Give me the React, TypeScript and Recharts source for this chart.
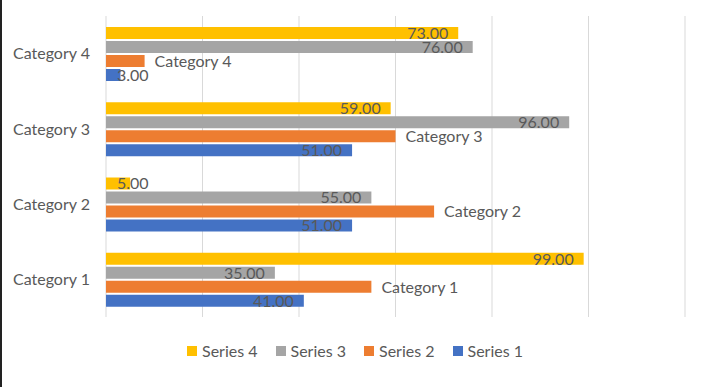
import React from "react";
import { BarChart, Bar, XAxis, YAxis, CartesianGrid, LabelList } from "recharts";

const CATEGORIES = ["Category 1", "Category 2", "Category 3", "Category 4"];
const SERIES_1 = [41, 51, 51, 3];
const SERIES_2 = [55, 68, 60, 8];
const SERIES_3 = [35, 55, 96, 76];
const SERIES_4 = [99, 5, 59, 73];
const X_TICKS = [0, 20, 40, 60, 80, 100, 120];

const SERIES = [
  { key: "s4", name: "Series 4", color: "#FFC000" },
  { key: "s3", name: "Series 3", color: "#A5A5A5" },
  { key: "s2", name: "Series 2", color: "#ED7D31" },
  { key: "s1", name: "Series 1", color: "#4472C4" },
];

const data = CATEGORIES.map((category, i) => ({
  category,
  s1: SERIES_1[i],
  s2: SERIES_2[i],
  s3: SERIES_3[i],
  s4: SERIES_4[i],
}));

const FONT = "Lato, 'Liberation Sans', sans-serif";
const TEXT = "#595959";

// value label sits inside the bar end; too-short bars push it past the start
const ValueLabel = (props: any) => {
  const { x, y, width, height, value } = props;
  const short = width < 45;
  return (
    <text
      x={short ? x + 11 : x + width - 10}
      y={y + height / 2}
      dy="0.36em"
      textAnchor={short ? "start" : "end"}
      fill={TEXT}
      fontSize={16}
      fontFamily={FONT}
    >
      {Number(value).toFixed(2)}
    </text>
  );
};

const NameLabel = (props: any) => {
  const { x, y, width, height, value } = props;
  return (
    <text x={x + width + 10} y={y + height / 2} dy="0.36em" textAnchor="start" fill={TEXT} fontSize={16} fontFamily={FONT}>
      {value}
    </text>
  );
};

const LegendBox = () => (
  <div
    style={{
      position: "absolute", top: 341, left: 0, width: 706, display: "flex", justifyContent: "center",
      fontFamily: FONT, fontSize: 16, color: TEXT,
    }}
  >
    {SERIES.map((s, i) => (
      <div key={s.key} style={{ display: "flex", alignItems: "center", marginRight: i < SERIES.length - 1 ? 18 : 0 }}>
        <span style={{ width: 10, height: 10, background: s.color, display: "inline-block", marginRight: 5 }} />
        <span>{s.name}</span>
      </div>
    ))}
  </div>
);

export default function App() {
  return (
    <div style={{ position: "absolute", top: 0, left: 0, width: 704, height: 387, background: "#fff", borderLeft: "2px solid #222", boxSizing: "border-box" }}>
      <BarChart
        width={702}
        height={387}
        data={data}
        layout="vertical"
        margin={{ top: 16, right: 19, left: 0, bottom: 70 }}
        barCategoryGap={11}
        barGap={2}
      >
        <CartesianGrid horizontal={false} stroke="#d9d9d9" />
        <XAxis type="number" domain={[0, 120]} ticks={X_TICKS} hide />
        <YAxis
          type="category"
          dataKey="category"
          reversed
          width={104}
          axisLine={false}
          tickLine={false}
          tickMargin={10}
          tick={{ fill: TEXT, fontSize: 16, fontFamily: FONT }}
        />
        {SERIES.map(s => (
          <Bar key={s.key} dataKey={s.key} name={s.name} fill={s.color} isAnimationActive={false}>
            {s.key === "s2" ? (
              <LabelList dataKey="category" content={<NameLabel />} />
            ) : (
              <LabelList dataKey={s.key} content={<ValueLabel />} />
            )}
          </Bar>
        ))}
      </BarChart>
      <LegendBox />
    </div>
  );
}
